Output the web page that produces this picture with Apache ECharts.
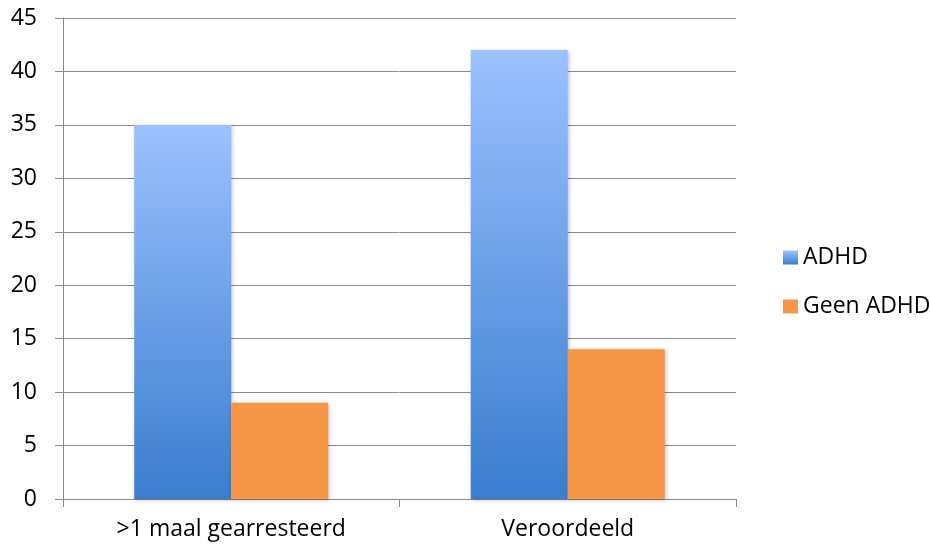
<!DOCTYPE html>
<html>
<head>
<meta charset="utf-8">
<script src="https://cdn.jsdelivr.net/npm/echarts@6/dist/echarts.min.js"></script>
<style>
  html, body { margin: 0; padding: 0; background: #fff; }
  #chart { width: 930px; height: 546px; }
</style>
</head>
<body>
<div id="chart"></div>
<script>
// Categories and series values
const categories = ['>1 maal gearresteerd', 'Veroordeeld'];
const adhdValues = [35, 42];
const geenAdhdValues = [9, 14];
const seriesNames = ['ADHD', 'Geen ADHD'];

const FONT = '"Open Sans", "Liberation Sans", sans-serif';
const FONT_SIZE = 23;
const GRID_COLOR = '#8a8a8a';

const chart = echarts.init(document.getElementById('chart'));

const adhdGradient = new echarts.graphic.LinearGradient(0, 0, 0, 1, [
  { offset: 0, color: '#9bc1ff' },
  { offset: 1, color: '#3a7dce' }
]);

const shadow = {
  shadowBlur: 4,
  shadowColor: 'rgba(0,0,0,0.25)',
  shadowOffsetX: 1,
  shadowOffsetY: 1
};

chart.setOption({
  animation: false,
  backgroundColor: '#ffffff',
  grid: { left: 63, right: 194, top: 18, bottom: 47 },
  legend: {
    orient: 'vertical',
    left: 778,
    top: 241,
    itemWidth: 15,
    itemHeight: 14,
    itemGap: 26,
    icon: 'rect',
    textStyle: { fontFamily: FONT, fontSize: FONT_SIZE, color: '#000' },
    data: [
      { name: seriesNames[0], itemStyle: { color: adhdGradient } },
      { name: seriesNames[1], itemStyle: { color: '#f79646' } }
    ]
  },
  xAxis: {
    type: 'category',
    data: categories,
    boundaryGap: true,
    axisLine: { lineStyle: { color: GRID_COLOR, width: 1 } },
    axisTick: { show: true, length: 8, lineStyle: { color: GRID_COLOR } },
    axisLabel: { fontFamily: FONT, fontSize: FONT_SIZE, color: '#000', margin: 19 }
  },
  yAxis: {
    type: 'value',
    min: 0,
    max: 45,
    interval: 5,
    axisLine: { show: true, lineStyle: { color: GRID_COLOR, width: 1 } },
    axisTick: { show: true, length: 8, lineStyle: { color: GRID_COLOR } },
    axisLabel: { fontFamily: FONT, fontSize: FONT_SIZE, color: '#000', margin: 26 },
    splitLine: { show: true, lineStyle: { color: GRID_COLOR, width: 1 } }
  },
  series: [
    {
      name: seriesNames[0],
      type: 'bar',
      data: adhdValues,
      barWidth: 97,
      barGap: '0%',
      itemStyle: Object.assign({ color: adhdGradient }, shadow)
    },
    {
      name: seriesNames[1],
      type: 'bar',
      data: geenAdhdValues,
      barWidth: 97,
      barGap: '0%',
      itemStyle: Object.assign({ color: '#f79646' }, shadow)
    }
  ]
});
</script>
</body>
</html>
